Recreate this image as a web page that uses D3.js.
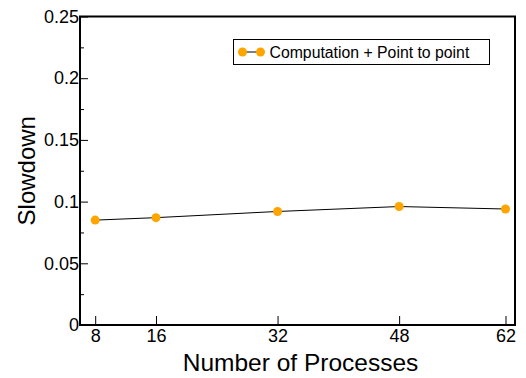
<!DOCTYPE html>
<html>
<head>
<meta charset="utf-8">
<script src="https://cdn.jsdelivr.net/npm/d3@7"></script>
<style>
  body { margin: 0; background: #fff; }
  svg { display: block; font-family: "Liberation Sans", Arial, sans-serif; }
</style>
</head>
<body>
<script>
// chart data
const processes = [8, 16, 32, 48, 62];
const slowdown = [0.085, 0.087, 0.092, 0.096, 0.094];
const yTicks = [0, 0.05, 0.1, 0.15, 0.2, 0.25];
const yMinorTicks = [0.025, 0.075, 0.125, 0.175, 0.225];
const seriesName = "Computation + Point to point";

const w = 526;
const h = 378;
const margin = {top: 16.5, right: 11, bottom: 53, left: 80};

const svg = d3.select("body")
    .append("svg")
    .attr("width", w)
    .attr("height", h);

// scales
const x = d3.scaleLinear()
    .domain([6, 63.25])
    .range([margin.left, w - margin.right]);

const y = d3.scaleLinear()
    .domain([0, 0.25])
    .range([h - margin.bottom, margin.top]);

// y axis, ticks point inward
const yAxis = d3.axisLeft(y)
    .tickValues(yTicks)
    .tickSizeInner(-8)
    .tickSizeOuter(0)
    .tickPadding(1)
    .tickFormat(d => d === 0 ? "0" : String(+d.toFixed(3)));

const gy = svg.append("g")
    .attr("transform", "translate(" + margin.left + ",0)")
    .call(yAxis);
gy.select(".domain").remove();
gy.selectAll("text").attr("font-size", 18).attr("fill", "#000");

// minor y ticks
const gyMinor = svg.append("g")
    .attr("transform", "translate(" + margin.left + ",0)")
    .call(d3.axisLeft(y).tickValues(yMinorTicks).tickSizeInner(-4).tickSizeOuter(0).tickFormat(""));
gyMinor.select(".domain").remove();

// x axis
const xAxis = d3.axisBottom(x)
    .tickValues(processes)
    .tickSizeInner(-9)
    .tickSizeOuter(0)
    .tickPadding(4)
    .tickFormat(d3.format("d"));

const gx = svg.append("g")
    .attr("transform", "translate(0," + (h - margin.bottom) + ")")
    .call(xAxis);
gx.select(".domain").remove();
gx.selectAll("text").attr("font-size", 18).attr("fill", "#000");

svg.selectAll(".tick line").attr("stroke", "#000").attr("stroke-width", 1);

// frame
svg.append("rect")
    .attr("x", margin.left)
    .attr("y", margin.top)
    .attr("width", w - margin.right - margin.left)
    .attr("height", h - margin.bottom - margin.top)
    .attr("fill", "none")
    .attr("stroke", "#000")
    .attr("stroke-width", 2);

// axis titles
svg.append("text")
    .attr("x", (margin.left + w - margin.right) / 2 + 3)
    .attr("y", 371)
    .attr("text-anchor", "middle")
    .attr("font-size", 24.5)
    .text("Number of Processes");

svg.append("text")
    .attr("transform", "translate(35," + ((margin.top + h - margin.bottom) / 2) + ") rotate(-90)")
    .attr("text-anchor", "middle")
    .attr("font-size", 24)
    .text("Slowdown");

// line
const line = d3.line()
    .x((d, i) => x(processes[i]))
    .y(d => y(d));

svg.append("path")
    .datum(slowdown)
    .attr("d", line)
    .attr("fill", "none")
    .attr("stroke", "#000")
    .attr("stroke-width", 1);

svg.selectAll("circle.pt")
    .data(slowdown)
    .enter()
    .append("circle")
    .attr("class", "pt")
    .attr("cx", (d, i) => x(processes[i]))
    .attr("cy", d => y(d))
    .attr("r", 4.5)
    .attr("fill", "#FFA500");

// legend
const legend = svg.append("g").attr("transform", "translate(233.5,39.5)");
legend.append("rect")
    .attr("width", 256)
    .attr("height", 25)
    .attr("fill", "#fff")
    .attr("stroke", "#000")
    .attr("stroke-width", 1);
legend.append("line")
    .attr("x1", 9).attr("x2", 27)
    .attr("y1", 12.5).attr("y2", 12.5)
    .attr("stroke", "#000");
legend.selectAll("circle")
    .data([9, 27])
    .enter()
    .append("circle")
    .attr("cx", d => d)
    .attr("cy", 12.5)
    .attr("r", 4.5)
    .attr("fill", "#FFA500");
legend.append("text")
    .attr("x", 36)
    .attr("y", 18)
    .attr("font-size", 15.8)
    .text(seriesName);
</script>
</body>
</html>
